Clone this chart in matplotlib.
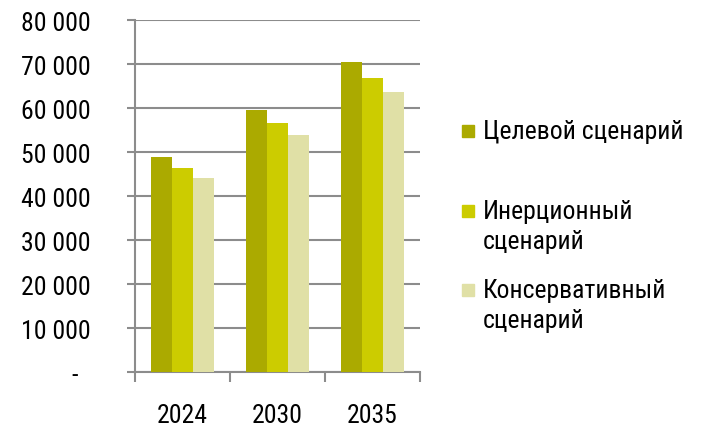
import numpy as np
import matplotlib
matplotlib.use("Agg")
import matplotlib.pyplot as plt
from matplotlib.patches import Rectangle

plt.rcParams["font.family"] = ["Roboto Condensed", "PT Sans Narrow", "Liberation Sans", "DejaVu Sans"]

# données
annees = ["2024", "2030", "2035"]
scenarios = ["Целевой сценарий", "Инерционный\nсценарий", "Консервативный\nсценарий"]
cible = [48900, 59600, 70400]
inertiel = [46500, 56600, 66900]
conservateur = [44100, 53800, 63600]
couleurs = ["#ABAA00", "#CCCC00", "#E0E0A6"]
yticks = [0, 10000, 20000, 30000, 40000, 50000, 60000, 70000, 80000]
ylabels = ["-  ", "10 000", "20 000", "30 000", "40 000", "50 000", "60 000", "70 000", "80 000"]

taille = 18.5

fig = plt.figure(figsize=(7.03, 4.27), dpi=100)
ax = fig.add_axes([0.192, 0.1257, 0.405, 0.825])

x = np.arange(len(annees))
largeur = 0.222
for i, serie in enumerate([cible, inertiel, conservateur]):
    ax.bar(x + (i - 1) * largeur, serie, width=largeur, color=couleurs[i],
           linewidth=0, zorder=3)

ax.set_xlim(-0.5, 2.5)
ax.set_ylim(0, 80000)
ax.set_yticks(yticks)
ax.set_yticklabels(ylabels, fontsize=taille)
ax.yaxis.grid(True, color="#8C8C8C", linewidth=1.5, zorder=0)

ax.set_xticks([-0.5, 0.5, 1.5, 2.5])
ax.set_xticklabels([])
ax.set_xticks(x, minor=True)
ax.set_xticklabels(annees, minor=True, fontsize=taille)
ax.tick_params(axis="x", which="minor", length=0, pad=22)
ax.tick_params(axis="x", which="major", length=7, width=1.5, color="#8C8C8C")
ax.tick_params(axis="y", length=6, width=1.5, color="#8C8C8C", pad=26)

for cote in ["top", "right"]:
    ax.spines[cote].set_visible(False)
for cote in ["left", "bottom"]:
    ax.spines[cote].set_color("#8C8C8C")
    ax.spines[cote].set_linewidth(1.5)

# légende dessinée à la main (carré aligné sur la première ligne)
positions = [132, 212, 291]
for i, nom in enumerate(scenarios):
    y = 1 - positions[i] / 427
    fig.add_artist(Rectangle((462 / 703, y - 6 / 427), 12 / 703, 12 / 427,
                             transform=fig.transFigure, color=couleurs[i]))
    fig.text(483 / 703, y + 12 / 427, nom, fontsize=taille, va="top", ha="left",
             linespacing=1.3)

fig.savefig("out.png", dpi=100)
